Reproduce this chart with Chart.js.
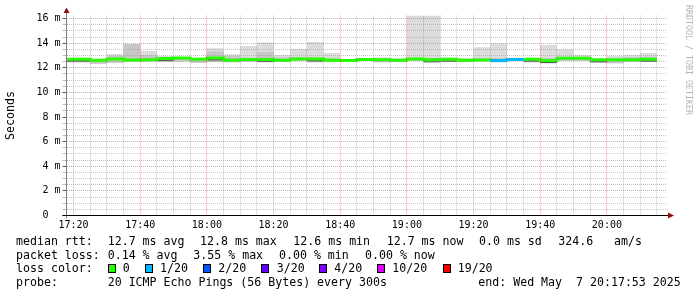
<!DOCTYPE html>
<html>
<head>
<meta charset="utf-8">
<script src="https://cdn.jsdelivr.net/npm/chart.js@4.4.0/dist/chart.umd.min.js"></script>
<style>
  html, body { margin: 0; padding: 0; background: #fff; }
</style>
</head>
<body>
<canvas id="chart" width="697" height="297"></canvas>
<script>
// Smokeping style latency graph, 5 minute bins (minutes after 17:00)
const binStart = [15, 20, 25, 30, 35, 40, 45, 50, 55, 60, 65, 70, 75, 80, 85, 90, 95, 100,
                  105, 110, 115, 120, 125, 130, 135, 140, 145, 150, 155, 160, 165, 170, 175, 180, 185, 190];
const binEnd = 195;
// time grid (minutes after 17:00), labels on every 20 minutes
const tickMinutes = [20, 25, 30, 35, 40, 45, 50, 55, 60, 65, 70, 75, 80, 85, 90, 95, 100, 105,
                     110, 115, 120, 125, 130, 135, 140, 145, 150, 155, 160, 165, 170, 175, 180, 185, 190, 195];

// median rtt (ms)
const median   = [12.69, 12.69, 12.61, 12.72, 12.64, 12.66, 12.75, 12.80, 12.69, 12.79, 12.61, 12.67,
                  12.67, 12.61, 12.72, 12.72, 12.61, 12.59, 12.68, 12.66, 12.61, 12.71, 12.66, 12.70,
                  12.61, 12.64, 12.59, 12.68, 12.70, 12.60, 12.78, 12.78, 12.65, 12.66, 12.66, 12.70];
// lost pings out of 20
const lossCount = [0, 0, 0, 0, 0, 0, 0, 0, 0, 0, 0, 0,
                   0, 0, 0, 0, 0, 0, 0, 0, 0, 0, 0, 0,
                   0, 0, 1, 1, 0, 0, 0, 0, 0, 0, 0, 0];
// smoke: slowest ping, inner band top, fastest ping, dark core bottom (ms)
const smokeMax = [12.78, 12.78, 12.66, 13.13, 13.94, 13.37, 12.96, 12.88, 12.78, 13.59, 13.10, 13.78,
                  14.06, 13.05, 13.53, 14.10, 13.20, 12.72, 12.78, 12.85, 12.80, 16.60, 16.60, 12.82,
                  12.80, 13.67, 13.97, 12.82, 12.78, 13.86, 13.51, 13.05, 12.76, 12.96, 13.05, 13.20];
const smokeMid = [12.74, 12.74, 12.62, 12.95, 13.94, 13.05, 12.85, 12.82, 12.74, 13.32, 12.95, 12.80,
                  13.29, 12.85, 12.85, 12.85, 12.80, 12.66, 12.72, 12.75, 12.70, 12.80, 12.80, 12.76,
                  12.70, 12.80, 12.80, 12.75, 12.74, 12.80, 12.90, 12.85, 12.70, 12.80, 12.85, 12.90];
const smokeMin = [12.45, 12.45, 12.32, 12.42, 12.50, 12.50, 12.50, 12.52, 12.42, 12.50, 12.45, 12.50,
                  12.45, 12.48, 12.55, 12.45, 12.48, 12.50, 12.55, 12.45, 12.48, 12.55, 12.45, 12.48,
                  12.48, 12.52, 12.45, 12.55, 12.45, 12.38, 12.58, 12.55, 12.42, 12.37, 12.48, 12.48];
const coreLow  = [12.49, 12.49, 12.61, 12.72, 12.64, 12.66, 12.55, 12.80, 12.69, 12.59, 12.61, 12.67,
                  12.47, 12.61, 12.72, 12.52, 12.61, 12.59, 12.68, 12.66, 12.61, 12.71, 12.46, 12.50,
                  12.61, 12.64, 12.59, 12.68, 12.50, 12.40, 12.78, 12.78, 12.45, 12.66, 12.66, 12.50];

const lossLevels = [0, 1, 2, 3, 4, 10, 19];
const lossLabels = ['0', '1/20', '2/20', '3/20', '4/20', '10/20', '19/20'];
const lossColors = ['#26ff00', '#00b8ff', '#0059ff', '#5e00ff', '#7e00ff', '#dd00ff', '#ff0000'];

const statLines = [
  [[16, 'median rtt:'], [107.7, '12.7 ms avg'], [200, '12.8 ms max'], [293.3, '12.6 ms min'],
   [386.7, '12.7 ms now'], [479, '0.0 ms sd'], [558.3, '324.6'], [614, 'am/s']],
  [[16, 'packet loss:'], [107.7, '0.14 % avg'], [193.3, '3.55 % max'], [279, '0.00 % min'], [365, '0.00 % now']],
  [[16, 'loss color:']],
  [[16, 'probe:'], [107.7, '20 ICMP Echo Pings (56 Bytes) every 300s'], [478.3, 'end: Wed May  7 20:17:53 2025']]
];
const swatchX = [108, 145, 203, 261, 319, 377, 443];
const swatchTextX = [122.7, 160, 218.3, 276.7, 334.3, 392.3, 457.7];

const X_MIN = 17 + 53 / 60;          // 17:17:53
const X_MAX = X_MIN + 180;           // 20:17:53
const Y_MAX = 16.25;
const MAJOR = 'rgba(215, 40, 40, 0.45)';
const MINOR = 'rgba(150, 150, 150, 0.55)';
const MONO = "'DejaVu Sans Mono', monospace";

Chart.defaults.font.family = MONO;
Chart.defaults.color = '#000';

function steps(values) {
  const pts = binStart.map((x, i) => ({ x: x, y: values[i] }));
  pts.push({ x: binEnd, y: values[values.length - 1] });
  return pts;
}

function lossColor(n) {
  let idx = 0;
  lossLevels.forEach((lv, i) => { if (n >= lv) idx = i; });
  return lossColors[idx];
}

function fmtTime(v) {
  const t = 17 * 60 + v;
  const h = Math.floor(t / 60), m = Math.round(t % 60);
  return h + ':' + String(m).padStart(2, '0');
}

const decor = {
  id: 'decor',
  afterDraw(chart) {
    const ctx = chart.ctx, a = chart.chartArea;
    ctx.save();
    // axes
    ctx.lineWidth = 1;
    ctx.strokeStyle = '#808080';
    ctx.beginPath(); ctx.moveTo(a.left, a.bottom + 3); ctx.lineTo(a.left, a.top - 3); ctx.stroke();
    ctx.strokeStyle = '#000';
    ctx.beginPath(); ctx.moveTo(a.left - 4, a.bottom); ctx.lineTo(a.right + 3, a.bottom); ctx.stroke();
    ctx.fillStyle = '#8b1414';
    ctx.beginPath(); ctx.moveTo(a.left - 3, a.top - 2.5); ctx.lineTo(a.left + 3, a.top - 2.5);
    ctx.lineTo(a.left, a.top - 8); ctx.closePath(); ctx.fill();
    ctx.beginPath(); ctx.moveTo(a.right + 1.5, a.bottom - 3); ctx.lineTo(a.right + 1.5, a.bottom + 3);
    ctx.lineTo(a.right + 7.5, a.bottom); ctx.closePath(); ctx.fill();

    // legend block
    ctx.font = '11.6px ' + MONO;
    ctx.textBaseline = 'middle';
    ctx.fillStyle = '#000';
    const lineY = [241.5, 255.5, 269, 283];
    statLines.forEach((parts, li) => {
      parts.forEach(([x, s]) => ctx.fillText(s, x, lineY[li]));
    });
    lossLabels.forEach((lab, i) => {
      ctx.fillStyle = lossColors[i];
      ctx.fillRect(swatchX[i] + 0.5, 264.5, 7, 8);
      ctx.strokeStyle = '#000';
      ctx.strokeRect(swatchX[i] + 0.5, 264.5, 7, 8);
      ctx.fillStyle = '#000';
      ctx.fillText(lab, swatchTextX[i], lineY[2]);
    });

    // watermark
    ctx.translate(685.5, 5);
    ctx.rotate(Math.PI / 2);
    ctx.font = '8.3px ' + MONO;
    ctx.textBaseline = 'alphabetic';
    ctx.fillStyle = '#b4b4b4';
    ctx.fillText('RRDTOOL / TOBI OETIKER', 0, 0);
    ctx.restore();
  }
};

const hidden = { borderColor: 'rgba(0,0,0,0)', borderWidth: 0, pointRadius: 0, stepped: true };

new Chart(document.getElementById('chart'), {
  type: 'line',
  data: {
    datasets: [
      Object.assign({ label: 'min', data: steps(smokeMin), fill: false, order: 4 }, hidden),
      Object.assign({ label: 'max', data: steps(smokeMax), fill: '-1', backgroundColor: '#dcdcdc', order: 3 }, hidden),
      Object.assign({ label: 'mid', data: steps(smokeMid), fill: '-2', backgroundColor: '#c6c6c6', order: 2 }, hidden),
      Object.assign({ label: 'core', data: steps(coreLow), fill: '+1', backgroundColor: '#5a5a5a', order: 1 }, hidden),
      {
        label: 'median rtt',
        data: steps(median),
        stepped: true,
        fill: false,
        pointRadius: 0,
        borderWidth: 3,
        borderCapStyle: 'butt',
        borderJoinStyle: 'miter',
        borderColor: lossColors[0],
        segment: { borderColor: c => lossColor(lossCount[Math.min(c.p0DataIndex, lossCount.length - 1)]) },
        order: 0
      }
    ]
  },
  options: {
    responsive: false,
    animation: false,
    devicePixelRatio: 1,
    events: [],
    layout: { padding: { left: 0, right: 30.5, top: 15.5, bottom: 61.5 } },
    plugins: { legend: { display: false }, tooltip: { enabled: false } },
    scales: {
      x: {
        type: 'linear',
        min: X_MIN,
        max: X_MAX,
        afterBuildTicks: s => { s.ticks = tickMinutes.map(v => ({ value: v })); },
        afterFit: s => { s.height = 20; },
        ticks: {
          autoSkip: false, maxRotation: 0, padding: 1,
          font: { size: 10 },
          callback: v => (v % 20 === 0 ? fmtTime(v) : '')
        },
        grid: {
          z: 1,
          color: c => (c.tick && c.tick.value % 20 === 0 ? MAJOR : MINOR),
          tickLength: 3,
          tickColor: 'rgba(0,0,0,0)'
        },
        border: { display: false, dash: [1, 1] }
      },
      y: {
        min: 0,
        max: Y_MAX,
        afterFit: s => { s.width = 66.5; },
        ticks: {
          stepSize: 0.5, includeBounds: false, autoSkip: false, padding: 2,
          font: { size: 10 },
          callback: v => (v % 2 !== 0 ? '' : (v === 0 ? '0  ' : v + ' m'))
        },
        grid: {
          z: 1,
          color: c => (c.tick && c.tick.value % 2 === 0 ? MAJOR : MINOR),
          tickLength: 4,
          tickColor: c => (c.tick && c.tick.value % 2 === 0 ? '#555' : '#bbb')
        },
        border: { display: false, dash: [1, 1] },
        title: { display: true, text: 'Seconds', font: { size: 11.6 }, padding: { top: 4, bottom: 0 } }
      }
    }
  },
  plugins: [decor]
});
</script>
</body>
</html>
